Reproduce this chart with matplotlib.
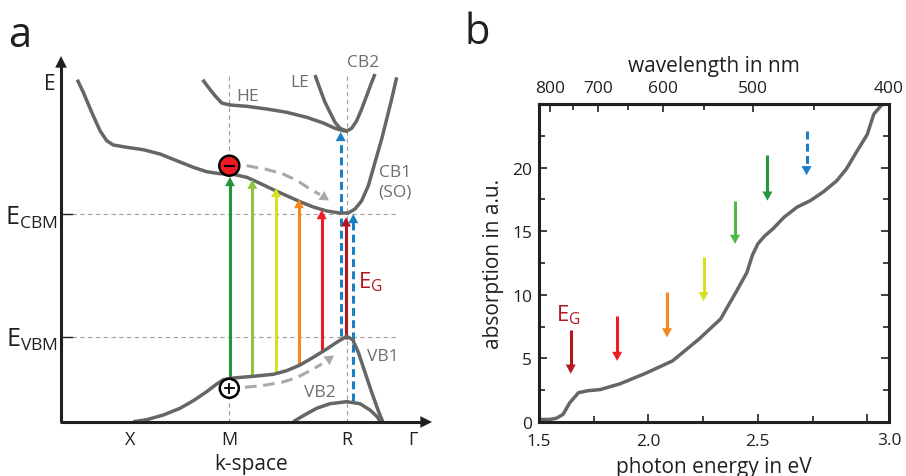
import numpy as np
import matplotlib
matplotlib.use('Agg')
import matplotlib.pyplot as plt
from matplotlib.patches import Circle

plt.rcParams['font.family'] = ['Open Sans', 'DejaVu Sans']
plt.rcParams['mathtext.fontset'] = 'custom'
plt.rcParams['mathtext.rm'] = 'Open Sans'
plt.rcParams['mathtext.it'] = 'Open Sans:italic'

# ---- panel a : schematic band structure (k, E in sketch units, E grows downward) ----
cb1_k = [77.3, 83.3, 91.7, 100, 106.7, 113.3, 126.7, 143.3, 160, 176.7, 193.3, 206.7, 220, 233.3,
         246.7, 260, 273.3, 286.7, 300, 313.3, 326.7, 340, 348.3, 355, 361.7, 368.3, 375, 381.7,
         386.7, 391.7, 396.7]
cb1_E = [80.7, 93.3, 113.3, 131.7, 141.7, 146, 148.3, 150.7, 155, 161.7, 168.3, 172.7, 174.7, 175.3,
         178.3, 184.3, 190.7, 196.7, 202.7, 208, 212, 214, 214, 210, 201.7, 186.7, 163.3, 140,
         120, 100, 78.3]
he_k = [202.7, 208.3, 215, 221.7, 230, 246.7, 266.7, 286.7, 306.7, 323.3, 335, 343.3, 347.3]
he_E = [80.7, 88.3, 96.7, 104, 106, 107.3, 110, 113.3, 118.3, 124, 129.3, 131.7, 132.3]
cb2_k = [315, 320, 325, 330, 335, 340, 346.7, 351.7, 356.7, 361.7, 366.7, 371, 375]
cb2_E = [76, 90, 103.3, 113.3, 123.3, 129.3, 132, 129.3, 121.7, 110, 96.7, 85, 75]
vb1_k = [133.3, 146.7, 163.3, 180, 193.3, 206.7, 216.7, 223.3, 233.3, 253.3, 273.3, 286.7, 300,
         313.3, 326.7, 336.7, 346.7, 352.7, 358.3, 365, 371.7, 378.3, 382.7]
vb1_E = [422.7, 420.7, 416, 409.3, 401.7, 392.7, 385, 380.7, 379, 377.3, 375.3, 371.7, 366,
         358.3, 350, 343.3, 337.3, 340.7, 353.3, 373.3, 393.3, 411.7, 422.7]
vb2_k = [293.3, 303.3, 316.7, 330, 346.7, 360, 370, 376.7, 380.7]
vb2_E = [422.7, 416.7, 409.3, 404.7, 402.7, 404.7, 411, 417.3, 422.7]

k_ticks = [130, 229.3, 347, 413]
k_labels = ['X', 'M', 'R', 'Γ']
E_cbm, E_vbm = 215.3, 338.3

# optical transitions (k, from, to)
tr_k = [230, 252.3, 276, 299, 321.7, 346, 340.7, 353.3]
tr_from = [378.3, 376.7, 373.3, 365, 353.3, 340, 336.7, 401.7]
tr_to = [178, 180.7, 189, 200, 211, 218.3, 133, 215]
tr_col = ['#24963e', '#8cc63f', '#d7df23', '#f7861f', '#ed1c24', '#b2161e', '#1a7fc4', '#1a7fc4']
tr_dash = [False] * 6 + [True, True]

# relaxation paths
el_k = [246.7, 265, 283, 297, 310, 320, 329]
el_E = [166.7, 170, 175, 181.5, 190, 195.5, 201.5]
ho_k = [245, 263, 283, 297, 310, 322, 334]
ho_E = [388.3, 386.5, 383, 378.5, 371.7, 365, 356.5]

# ---- panel b : absorption spectrum ----
energy = [1.50, 1.55, 1.58, 1.61, 1.64, 1.68, 1.72, 1.78, 1.87, 1.99, 2.11, 2.23, 2.33, 2.40, 2.45,
          2.475, 2.50, 2.53, 2.57, 2.62, 2.68, 2.74, 2.80, 2.86, 2.905, 2.95, 3.00, 3.03, 3.065, 3.075]
absorption = [0.2, 0.2, 0.3, 0.6, 1.5, 2.3, 2.45, 2.55, 3.0, 3.85, 4.8, 6.5, 8.1, 10.2, 11.75,
              13.1, 14.0, 14.6, 15.2, 16.1, 16.9, 17.4, 18.1, 18.95, 19.9, 21.2, 22.6, 24.2, 24.9, 25.0]
b_arr_x = [1.645, 1.857, 2.085, 2.252, 2.396, 2.544, 2.723]
b_arr_top = [7.2, 8.3, 10.2, 13.0, 17.4, 21.0, 22.9]
b_arr_tip = [3.8, 4.8, 6.65, 9.5, 14.0, 17.4, 19.4]
b_arr_col = ['#b2161e', '#ed1c24', '#f7861f', '#d7df23', '#4fb848', '#24963e', '#1a7fc4']
b_arr_dash = [False] * 6 + [True]

wl_major = [800, 700, 600, 500, 400]
wl_minor = [750, 650, 550, 450]
hc = 1239.84

band = '#666666'
ink = '#231f20'
guide = '#a0a0a0'


def draw_arrow(ax, x, y0, y1, color, dashed, head, lw=2.2):
    d = np.sign(y1 - y0)
    ls = (0, (2.6, 1.4)) if dashed else '-'
    ax.plot([x, x], [y0, y1 - d * head], color=color, lw=lw, ls=ls,
            solid_capstyle='butt', dash_capstyle='butt')
    ax.annotate('', xy=(x, y1), xytext=(x, y1 - d * head),
                arrowprops=dict(arrowstyle='-|>,head_length=0.55,head_width=0.3',
                                color=color, lw=0, shrinkA=0, shrinkB=0, mutation_scale=12))


fig = plt.figure(figsize=(9.06, 4.77), dpi=100)

# panel a
ax = fig.add_axes([0, 0, 453 / 906, 1])
ax.set_xlim(0, 453)
ax.set_ylim(477, 0)
ax.axis('off')

for kk in [229.3, 347]:
    ax.plot([kk, kk], [77, 423], color=guide, lw=0.8, ls=(0, (4, 3)))
for ee in [E_cbm, E_vbm]:
    ax.plot([72, 398], [ee, ee], color=guide, lw=0.8, ls=(0, (4, 3)))
    ax.plot([62, 72], [ee, ee], color=ink, lw=1.0)

for i in range(len(tr_k)):
    draw_arrow(ax, tr_k[i], tr_from[i], tr_to[i], tr_col[i], tr_dash[i], 7)

for kk, ee in [(cb1_k, cb1_E), (he_k, he_E), (cb2_k, cb2_E), (vb1_k, vb1_E), (vb2_k, vb2_E)]:
    ax.plot(kk, ee, color=band, lw=2.5, solid_capstyle='butt', solid_joinstyle='round')

for kk, ee in [(el_k, el_E), (ho_k, ho_E)]:
    ax.plot(kk[:-1], ee[:-1], color='#a7a9ac', lw=2.2, ls=(0, (3.8, 2.2)))
    ax.annotate('', xy=(kk[-1], ee[-1]), xytext=(kk[-2], ee[-2]),
                arrowprops=dict(arrowstyle='-|>,head_length=0.55,head_width=0.32',
                                color='#a7a9ac', lw=0, shrinkA=0, shrinkB=0, mutation_scale=12))

# axes of the sketch
ax.plot([61, 61], [423, 66], color=ink, lw=2.2, solid_capstyle='butt')
ax.plot([60, 423], [423, 423], color=ink, lw=2.2, solid_capstyle='butt')
ax.annotate('', xy=(61, 57), xytext=(61, 70),
            arrowprops=dict(arrowstyle='-|>,head_length=0.7,head_width=0.35',
                            color=ink, lw=0, shrinkA=0, shrinkB=0, mutation_scale=12))
ax.annotate('', xy=(432, 423), xytext=(419, 423),
            arrowprops=dict(arrowstyle='-|>,head_length=0.7,head_width=0.35',
                            color=ink, lw=0, shrinkA=0, shrinkB=0, mutation_scale=12))

ax.add_patch(Circle((229.3, 166.7), 10, fc='#ed1c24', ec='black', lw=1.8, zorder=5))
ax.plot([225, 233.6], [166.7, 166.7], color='black', lw=1.5, zorder=6)
ax.add_patch(Circle((229.3, 389.3), 9.5, fc='white', ec='black', lw=1.8, zorder=5))
ax.plot([225, 233.6], [389.3, 389.3], color='black', lw=1.3, zorder=6)
ax.plot([229.3, 229.3], [385, 393.6], color='black', lw=1.3, zorder=6)

for kk, lab in zip(k_ticks, k_labels):
    ax.text(kk, 440, lab, ha='center', va='center', fontsize=13, color=ink)
ax.text(251, 465, 'k-space', ha='center', va='center', fontsize=15, color=ink)
ax.text(50, 84, 'E', ha='center', va='center', fontsize=15, color=ink)
ax.text(58, 218, r'$\mathregular{E_{CBM}}$', ha='right', va='center', fontsize=18, color=ink)
ax.text(58, 340, r'$\mathregular{E_{VBM}}$', ha='right', va='center', fontsize=18, color=ink)
ax.text(20, 36, 'a', ha='center', va='center', fontsize=30, color=ink)

gray_txt = '#6d6e71'
ax.text(248, 97, 'HE', ha='center', va='center', fontsize=12.5, color=gray_txt)
ax.text(300, 83, 'LE', ha='center', va='center', fontsize=12.5, color=gray_txt)
ax.text(363, 63, 'CB2', ha='center', va='center', fontsize=12.5, color=gray_txt)
ax.text(395, 173, 'CB1', ha='center', va='center', fontsize=12.5, color=gray_txt)
ax.text(395, 193, '(SO)', ha='center', va='center', fontsize=12.5, color=gray_txt)
ax.text(383, 357, 'VB1', ha='center', va='center', fontsize=12.5, color=gray_txt)
ax.text(320, 393, 'VB2', ha='center', va='center', fontsize=12.5, color=gray_txt)
ax.text(370, 282, r'$\mathregular{E_G}$', ha='center', va='center', fontsize=16, color='#b2161e')

# panel b
bx = fig.add_axes([539 / 906, (477 - 423) / 477, (889 - 539) / 906, (423 - 105) / 477])
bx.plot(energy, absorption, color=band, lw=2.5)
for i in range(len(b_arr_x)):
    draw_arrow(bx, b_arr_x[i], b_arr_top[i], b_arr_tip[i], b_arr_col[i], b_arr_dash[i], 0.6)
bx.text(1.634, 8.5, r'$\mathregular{E_G}$', ha='center', va='center', fontsize=16, color='#b2161e')

bx.set_xlim(1.5, hc / 400)
bx.set_ylim(0, 25)
bx.set_xticks([1.5, 2.0, 2.5, 3.0])
bx.set_xticklabels(['1.5', '2.0', '2.5', ''])
bx.set_xticks([1.75, 2.25, 2.75], minor=True)
bx.text(hc / 400, -0.03, '3.0', transform=bx.get_xaxis_transform(), ha='center', va='top',
        fontsize=12.5, color=ink)
bx.set_yticks([0, 5, 10, 15, 20])
bx.set_yticks([2.5, 7.5, 12.5, 17.5, 22.5], minor=True)
bx.tick_params(which='both', direction='in', right=True, width=1.2, color=ink,
               labelsize=12.5, labelcolor=ink)
bx.tick_params(which='major', length=6)
bx.tick_params(which='minor', length=4)
bx.tick_params(axis='x', pad=8)
bx.tick_params(axis='y', pad=5)
for s in bx.spines.values():
    s.set_linewidth(2.2)
    s.set_color(ink)
bx.set_xlabel('photon energy in eV', fontsize=15, color=ink, labelpad=5)
bx.set_ylabel('absorption in a.u.', fontsize=15, color=ink, labelpad=6)

top = bx.secondary_xaxis('top', functions=(lambda e: hc / e, lambda w: hc / w))
top.set_xticks(wl_major)
top.set_xticks(wl_minor, minor=True)
top.tick_params(which='both', direction='in', width=1.2, color=ink, labelsize=12.5,
                labelcolor=ink, pad=6)
top.tick_params(which='major', length=6)
top.tick_params(which='minor', length=4)
top.spines['top'].set_linewidth(2.2)
top.set_xlabel('wavelength in nm', fontsize=15, color=ink, labelpad=6)

fig.text(477 / 906, 1 - 33 / 477, 'b', ha='center', va='center', fontsize=30, color=ink)

fig.savefig('out.png', dpi=100)
